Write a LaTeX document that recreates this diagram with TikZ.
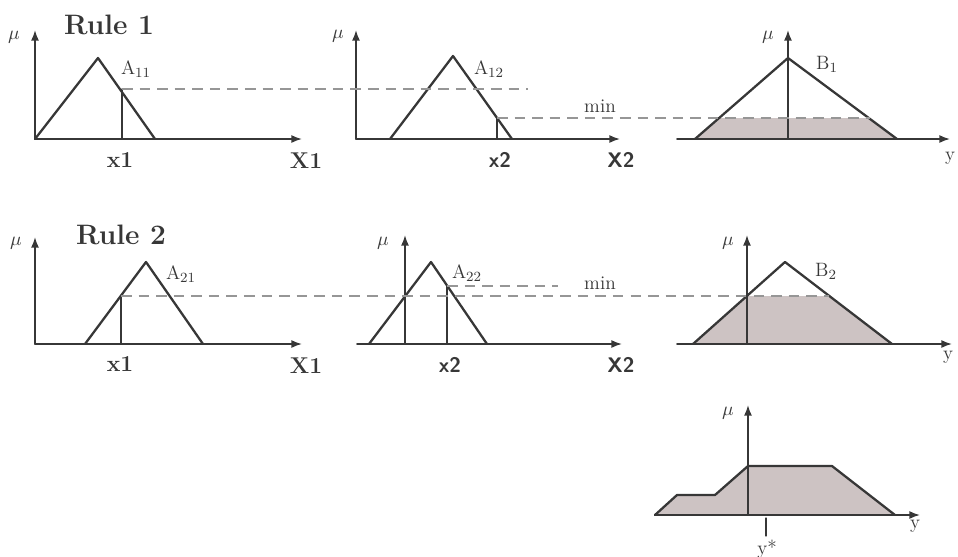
\documentclass[tikz,border=0pt]{standalone}
\usetikzlibrary{arrows.meta}
\definecolor{linegray}{RGB}{55,55,55}
\definecolor{dashgray}{RGB}{150,150,150}
\definecolor{shadegray}{RGB}{205,195,195}
\begin{document}
\begin{tikzpicture}[x=0.02cm, y=-0.02cm, line join=round, line cap=round,
	axis/.style={line width=0.9pt, linegray, -{Latex[length=6pt,width=4.5pt]}},
	mf/.style={line width=1.3pt, linegray},
	cutline/.style={line width=0.7pt, linegray},
	level/.style={line width=0.8pt, dashgray, dash pattern=on 6pt off 4pt, line cap=butt},
	area/.style={fill=shadegray},
	lab/.style={font=\fontsize{11}{13}\selectfont, text=linegray},
	mulab/.style={font=\fontsize{11}{13}\selectfont, text=linegray},
	inlab/.style={font=\fontsize{13}{15}\selectfont\bfseries, text=linegray},
	insflab/.style={font=\fontsize{12}{14}\selectfont\sffamily\bfseries, text=linegray},
	rulelab/.style={font=\fontsize{16}{19}\selectfont\bfseries, text=linegray}]
	\useasboundingbox (0,0) rectangle (958,556);
	
	% rule 1
	\coordinate (P11a) at (35,139);
	\coordinate (P11b) at (98,58);
	\coordinate (P11c) at (155,139);
	\coordinate (P12a) at (390,139);
	\coordinate (P12b) at (453,56);
	\coordinate (P12c) at (512,139);
	\coordinate (Q1a) at (695,139);
	\coordinate (Q1b) at (788,58);
	\coordinate (Q1c) at (897,139);
	\coordinate (X11) at (122,89);
	\coordinate (X12) at (497,118);
	
	% rule 2
	\coordinate (P21a) at (85,344);
	\coordinate (P21b) at (146,262);
	\coordinate (P21c) at (203,344);
	\coordinate (P22a) at (369,344);
	\coordinate (P22b) at (431,262);
	\coordinate (P22c) at (487,344);
	\coordinate (Q2a) at (693,344);
	\coordinate (Q2b) at (785,262);
	\coordinate (Q2c) at (892,344);
	\coordinate (X21) at (121,296);
	\coordinate (X22) at (447,286);
	
	% shaded consequents
	\fill[area] (Q1a) -- (719,118) -- (869,118) -- (Q1c) -- cycle;
	\fill[area] (Q2a) -- (747,296) -- (829,296) -- (Q2c) -- cycle;
	\fill[area] (655,515) -- (677,495) -- (715,495) -- (748,466) -- (832,466) -- (895,515) -- cycle;
	
	% axes
	\draw[axis] (35,139) -- (302,139);
	\draw[axis] (35,139) -- (35,30);
	\draw[axis] (356,139) -- (620,139);
	\draw[axis] (356,139) -- (356,30);
	\draw[axis] (677,139) -- (950,139);
	\draw[axis] (788,139) -- (788,30);
	\draw[axis] (35,344) -- (302,344);
	\draw[axis] (35,344) -- (35,237);
	\draw[axis] (357,344) -- (622,344);
	\draw[axis] (405,344) -- (405,235);
	\draw[axis] (677,344) -- (952,344);
	\draw[axis] (747,344) -- (747,235);
	\draw[axis] (655,515) -- (920,515);
	\draw[axis] (748,515) -- (748,405);
	
	% membership functions
	\draw[mf] (P11a) -- (P11b) -- (P11c);
	\draw[mf] (P12a) -- (P12b) -- (P12c);
	\draw[mf] (Q1a) -- (Q1b) -- (Q1c);
	\draw[mf] (P21a) -- (P21b) -- (P21c);
	\draw[mf] (P22a) -- (P22b) -- (P22c);
	\draw[mf] (Q2a) -- (Q2b) -- (Q2c);
	\draw[mf] (655,515) -- (677,495) -- (715,495) -- (748,466) -- (832,466) -- (895,515);
	
	% inputs and levels
	\draw[cutline] (122,139) -- (X11);
	\draw[cutline] (497,139) -- (X12);
	\draw[cutline] (121,344) -- (X21);
	\draw[cutline] (447,344) -- (X22);
	\draw[cutline] (766,518) -- (766,536);
	\draw[level] (X11) -- (528,89);
	\draw[level] (X12) -- (870,118);
	\draw[level] (X21) -- (829,296);
	\draw[level] (X22) -- (558,286);
	
	% labels
	\node[rulelab] (rule1) at (109,25) {Rule 1};
	\node[rulelab] (rule2) at (121,235) {Rule 2};
	\node[mulab] (mu11) at (14,37) {$\mu$};
	\node[mulab] (mu12) at (338,36) {$\mu$};
	\node[mulab] (mu13) at (768,37) {$\mu$};
	\node[mulab] (mu21) at (16,243) {$\mu$};
	\node[mulab] (mu22) at (383,243) {$\mu$};
	\node[mulab] (mu23) at (728,243) {$\mu$};
	\node[mulab] (mu3) at (728,413) {$\mu$};
	\node[lab] (a11) at (136,69) {A$_{11}$};
	\node[lab] (a12) at (489,69) {A$_{12}$};
	\node[lab] (b1) at (827,64) {B$_1$};
	\node[lab] (a21) at (181,274) {A$_{21}$};
	\node[lab] (a22) at (467,273) {A$_{22}$};
	\node[lab] (b2) at (826,271) {B$_2$};
	\node[lab] (min1) at (600,106) {min};
	\node[lab] (min2) at (600,283) {min};
	\node[inlab] (x11) at (120,160) {x1};
	\node[inlab] (ax11) at (306,161) {X1};
	\node[insflab] (x12) at (500,160) {x2};
	\node[insflab] (ax12) at (621,160) {X2};
	\node[lab] (y1) at (950,158) {y};
	\node[inlab] (x21) at (120,364) {x1};
	\node[inlab] (ax21) at (306,366) {X1};
	\node[insflab] (x22) at (450,365) {x2};
	\node[insflab] (ax22) at (621,365) {X2};
	\node[lab] (y2) at (948,357) {y};
	\node[lab] (y3) at (915,526) {y};
	\node[lab] (ystar) at (767,549) {y*};
\end{tikzpicture}
\end{document}
